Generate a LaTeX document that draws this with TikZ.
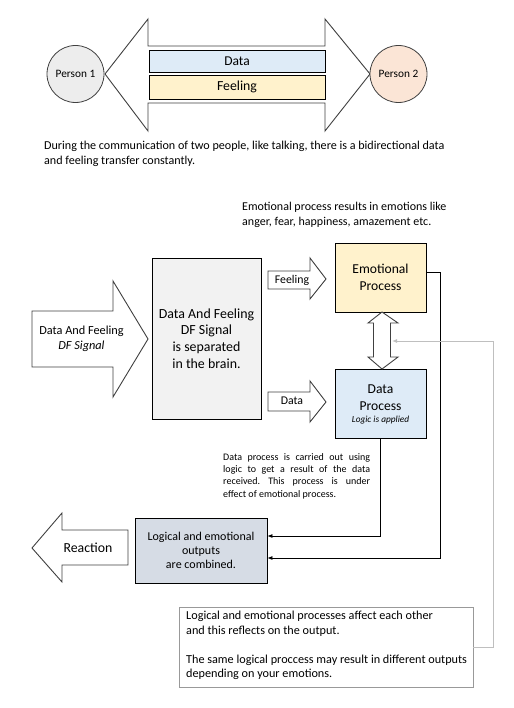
\documentclass[tikz,border=0pt]{standalone}
\usepackage{fontspec}
\setmainfont{Carlito}
\usetikzlibrary{arrows.meta}
\definecolor{blueL}{HTML}{DEEBF7}
\definecolor{yellowL}{HTML}{FFF2CC}
\definecolor{grayL}{HTML}{F2F2F2}
\definecolor{pOne}{HTML}{EDEDED}
\definecolor{pTwo}{HTML}{FBE5D6}
\definecolor{combC}{HTML}{D6DCE5}
\definecolor{lineG}{HTML}{BFBFBF}
\definecolor{outlineC}{HTML}{404040}
\newcommand{\fs}[2]{\fontsize{#1}{#2}\selectfont}
\frenchspacing
\begin{document}
\begin{tikzpicture}[x=1pt,y=-1pt,line join=miter,
  shape outline/.style={draw=outlineC,line width=0.9pt,fill=white},
  box/.style={draw=black,line width=0.8pt,inner sep=0pt,align=center},
  person/.style={circle,draw=outlineC,line width=0.8pt,minimum size=57pt,inner sep=0pt,font=\fs{11.3}{12}},
  txt/.style={inner sep=0pt,align=left},
  conn/.style={draw=black,line width=0.8pt,-{Latex[length=5pt,width=4pt]}},
  gconn/.style={draw=lineG,line width=1pt,-{Latex[length=5pt,width=4pt]}}]
\useasboundingbox (0,0) rectangle (513,708);

% ---------- top part ----------
\draw[shape outline] (105,74) -- (148,19) -- (148,46) -- (325,46) -- (325,19) -- (370,74)
  -- (325,131) -- (325,103) -- (148,103) -- (148,131) -- cycle;
\node[person,fill=pOne] (p1) at (75.5,74) {Person 1};
\node[person,fill=pTwo] (p2) at (398.5,74) {Person 2};
\node[box,fill=blueL,minimum width=176pt,minimum height=22pt,font=\fs{13.5}{14}] (data) at (237,61) {Data};
\node[box,fill=yellowL,minimum width=176pt,minimum height=24pt,font=\fs{13.8}{14}] (feel) at (237,87) {Feeling};
\node[txt,anchor=north west,font=\fs{12.1}{14.5}] (intro) at (44,141)
  {During the communication of two people, like talking, there is a bidirectional data\\and feeling transfer constantly.};

% ---------- middle part ----------
\node[txt,anchor=north west,font=\fs{12}{15}] (cap) at (242,202)
  {Emotional process results in emotions like\\anger, fear, happiness, amazement etc.};

% input arrow
\draw[shape outline] (32,311) -- (113,311) -- (113,281) -- (148,339) -- (113,397) -- (113,367) -- (32,367) -- cycle;
\node[txt,align=center,font=\fs{12.3}{15}] (inp) at (81.5,338.5) {Data And Feeling\\\textit{DF Signal}};

% separator box
\node[box,fill=grayL,minimum width=109pt,minimum height=161pt,font=\fs{13.9}{16.7}] (sep) at (206.5,338.5)
  {Data And Feeling\\DF Signal\\is separated\\in the brain.};

% feeling arrow
\draw[shape outline] (268,271) -- (310,271) -- (310,258) -- (326,279) -- (310,299) -- (310,289) -- (268,289) -- cycle;
\node[font=\fs{11.8}{12},inner sep=0pt] (flab) at (292,280) {Feeling};
% data arrow
\draw[shape outline] (268,392) -- (310,392) -- (310,381) -- (326,402) -- (310,422) -- (310,411) -- (268,411) -- cycle;
\node[font=\fs{11.8}{12},inner sep=0pt] (dlab) at (292,401) {Data};

% process boxes
\node[box,fill=yellowL,minimum width=91pt,minimum height=69pt,font=\fs{13.6}{17}] (emo) at (380.5,277.5)
  {Emotional\\Process};
\node[box,fill=blueL,minimum width=91pt,minimum height=69pt] (dp) at (380.5,403.5) {};
\node[inner sep=0pt,align=center,font=\fs{13.6}{17}] (dptxt) at (380.5,397.5) {Data\\Process};
\node[inner sep=0pt,font=\fs{9.3}{10}\itshape] (logic) at (380.5,420.5) {Logic is applied};

% double vertical arrow
\draw[shape outline] (382,312) -- (398,323) -- (390.5,323) -- (390.5,357) -- (398,357) -- (382,369)
  -- (368,357) -- (373.5,357) -- (373.5,323) -- (368,323) -- cycle;

% data process note
\node[txt,anchor=north west,font=\fs{10}{12.3}] (dnote) at (223,453)
  {\makebox[147pt][s]{Data process is carried out using}\\
   \makebox[147pt][s]{logic to get a result of the data}\\
   \makebox[147pt][s]{received. This process is under}\\
   effect of emotional process.};

% ---------- bottom part ----------
\node[box,fill=combC,minimum width=132pt,minimum height=65pt,font=\fs{12}{14}] (comb) at (201,550.5)
  {Logical and emotional\\outputs\\are combined.};

% reaction arrow
\draw[shape outline] (128,530) -- (62,530) -- (62,513) -- (32,548) -- (62,582) -- (62,565) -- (128,565) -- cycle;
\node[font=\fs{13.8}{14},inner sep=0pt] (react) at (88,548) {Reaction};

% note box
\node[draw=lineG!80!black,line width=0.8pt,minimum width=294pt,minimum height=80pt,inner sep=0pt] (note) at (326,647) {};
\node[txt,anchor=north west,font=\fs{12.2}{14.5}] (notetxt) at (186,611)
  {Logical and emotional processes affect each other\\and this reflects on the output.\\[14.5pt]
   The same logical proccess may result in different outputs\\depending on your emotions.};

% connectors
\coordinate (c1) at (440,272);
\coordinate (c2) at (440,558);
\draw[conn] ([yshift=5.5pt]emo.east) -- (c1) -- (c2) -- ([yshift=-7.5pt]comb.east);
\coordinate (c3) at (380.5,536);
\draw[conn] (dp.south) -- (c3) -- ([yshift=14.5pt]comb.east);
\coordinate (g1) at (493,647);
\coordinate (g2) at (493,341);
\coordinate (g3) at (392,341);
\draw[gconn] (note.east) -- (g1) -- (g2) -- (g3);
\end{tikzpicture}
\end{document}
